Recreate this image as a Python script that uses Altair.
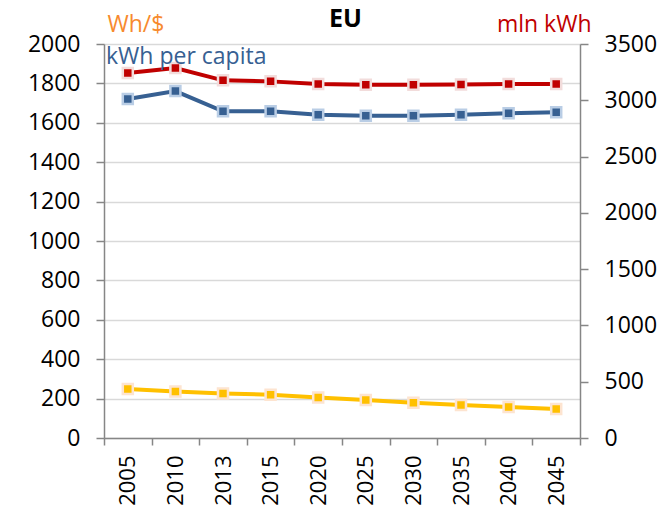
import altair as alt
import pandas as pd

years = ["2005", "2010", "2013", "2015", "2020", "2025", "2030", "2035", "2040", "2045"]
kwh_per_capita = [1721, 1761, 1658, 1658, 1641, 1636, 1636, 1641, 1648, 1653]
mln_kwh = [3242, 3287, 3177, 3168, 3145, 3139, 3139, 3141, 3145, 3145]
wh_per_usd = [249, 236, 226, 220, 206, 193, 179, 168, 157, 147]

left_ticks = list(range(0, 2001, 200))
right_ticks = list(range(0, 3501, 500))

df = pd.DataFrame({"year": years, "kwh": kwh_per_capita, "mln": mln_kwh, "whusd": wh_per_usd})

W, H = 476, 394
FONT = "Open Sans"
AX = "#868686"
GRID = "#D9D9D9"

xenc = alt.X("year:N", sort=None,
             scale=alt.Scale(paddingInner=0, paddingOuter=0),
             axis=alt.Axis(title=None, labelAngle=-90, labelFontSize=22, labelPadding=10,
                           tickSize=7, tickBand="extent", domainColor=AX, tickColor=AX,
                           domainWidth=1.5, tickWidth=1.5, labelColor="black", grid=False,
                           labelOverlap=False))

left_axis = alt.Axis(values=left_ticks, format="d", title="Wh/$", titleAngle=0, titleAlign="left",
                     titleBaseline="alphabetic", titleX=3, titleY=-13, titleColor="#F78A2E",
                     titleFontSize=23, titleFontWeight="normal",
                     labelFontSize=23, labelPadding=16, tickSize=8, domainColor=AX,
                     tickColor=AX, domainWidth=1.5, tickWidth=1.5, grid=True,
                     gridColor=GRID, gridWidth=1.5, labelColor="black")
left_scale = alt.Scale(domain=[0, 2000], nice=False)

def series(field, color, stroke, axis, scale):
    return alt.Chart(df).mark_line(
        color=color, strokeWidth=4,
        point=alt.OverlayMarkDef(shape="square", size=100, filled=True, fill=color,
                                 stroke=stroke, strokeWidth=2.5, opacity=1)
    ).encode(x=xenc, y=alt.Y(f"{field}:Q", scale=scale, axis=axis))

blue = series("kwh", "#376092", "#B9CDE5", left_axis, left_scale)
yellow = series("whusd", "#FFC000", "#FDE4D0", left_axis, left_scale)

right_axis = alt.Axis(values=right_ticks, format="d", orient="right", title="mln kWh", titleAngle=0,
                      titleAlign="right", titleBaseline="alphabetic", titleX=11, titleY=-13,
                      titleColor="#C00000", titleFontSize=23, titleFontWeight="normal",
                      labelFontSize=23, labelPadding=16, tickSize=8, domainColor=AX,
                      tickColor=AX, domainWidth=1.5, tickWidth=1.5, grid=False,
                      labelColor="black")
red = series("mln", "#C00000", "#F2DCDB", right_axis, alt.Scale(domain=[0, 3500], nice=False))

label_df = pd.DataFrame({"t": ["kWh per capita"]})
per_capita = alt.Chart(label_df).mark_text(
    align="left", baseline="alphabetic", fontSize=23, color="#376092", font=FONT
).encode(text="t:N", x=alt.value(2), y=alt.value(20))

title_df = pd.DataFrame({"t": ["EU"]})
eu = alt.Chart(title_df).mark_text(
    align="center", baseline="alphabetic", fontSize=25, fontWeight="bold", color="black", font=FONT
).encode(text="t:N", x=alt.value(241.5), y=alt.value(-17))

left = alt.layer(yellow, blue)
chart = alt.layer(left, red, per_capita, eu).resolve_scale(y="independent").properties(
    width=W, height=H,
    autosize=alt.AutoSizeParams(type="none"),
    padding={"left": 96, "top": 36, "right": 84, "bottom": 74},
).configure(font=FONT).configure_view(stroke=None)

chart.save("out.html", embed_options={"renderer": "svg", "actions": False})
